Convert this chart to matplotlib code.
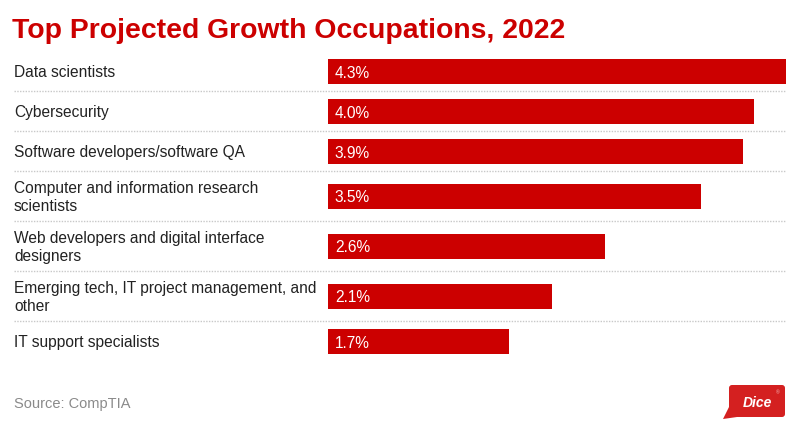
import matplotlib.pyplot as plt
from matplotlib.patches import FancyBboxPatch, Polygon

plt.rcParams['font.family'] = ['Liberation Sans', 'DejaVu Sans']

occupations = [
    'Data scientists',
    'Cybersecurity',
    'Software developers/software QA',
    'Computer and information research\nscientists',
    'Web developers and digital interface\ndesigners',
    'Emerging tech, IT project management, and\nother',
    'IT support specialists',
]
growth = [4.3, 4.0, 3.9, 3.5, 2.6, 2.1, 1.7]

RED = '#cc0000'
W, H = 800, 437
LINE_H = 17.7

fig = plt.figure(figsize=(8, 4.37), dpi=100)

# background axes in pixel coords for text and separators
bg = fig.add_axes([0, 0, 1, 1])
bg.set_xlim(0, W)
bg.set_ylim(H, 0)
bg.axis('off')

# row layout: one-line rows are 40px, two-line rows 50px
top = 51
centers, seps = [], []
y = top
for lab in occupations:
    h = 50 if '\n' in lab else 40
    centers.append(y + h / 2)
    y += h
    seps.append(y)

bg.text(12, 38, 'Top Projected Growth Occupations, 2022', fontsize=20.4,
        fontweight='bold', color=RED, va='baseline', ha='left')

for lab, yc in zip(occupations, centers):
    lines = lab.split('\n')
    first = yc + 6.2 - (len(lines) - 1) * LINE_H / 2
    for i, line in enumerate(lines):
        bg.text(14, first + i * LINE_H, line, fontsize=11.2, color='#222222',
                va='baseline', ha='left')

for s in seps[:-1]:
    bg.plot([14, 786], [s, s], color='#c8c8c8', lw=1, ls=(0, (1, 1)))

bg.text(14, 408, 'Source: CompTIA', fontsize=10.5, color='#8a8a8a',
        va='baseline', ha='left')

# Dice logo
bg.add_patch(FancyBboxPatch((729, 385), 56, 32, boxstyle='round,pad=0,rounding_size=3',
                            fc='#d42020', ec='none'))
bg.add_patch(Polygon([[730, 405], [737, 417], [723, 419]], closed=True,
                     fc='#d42020', ec='none'))
bg.text(743, 407, 'Dice', fontsize=10, fontweight='bold', fontstyle='italic',
        color='white', va='baseline', ha='left')
bg.text(777.5, 393, '®', fontsize=3.5, color='#f3c0c0', va='center', ha='center')

# bar axes
ax = fig.add_axes([328 / W, 0, 458 / W, 1])
ax.set_xlim(0, max(growth))
ax.set_ylim(H, 0)
ax.axis('off')
ax.barh(centers, growth, height=25, color=RED)
for v, yc in zip(growth, centers):
    ax.text(0.065, yc + 6.5, f'{v:.1f}%', fontsize=11.2, color='white',
            va='baseline', ha='left')

fig.savefig('out.png', dpi=100)
